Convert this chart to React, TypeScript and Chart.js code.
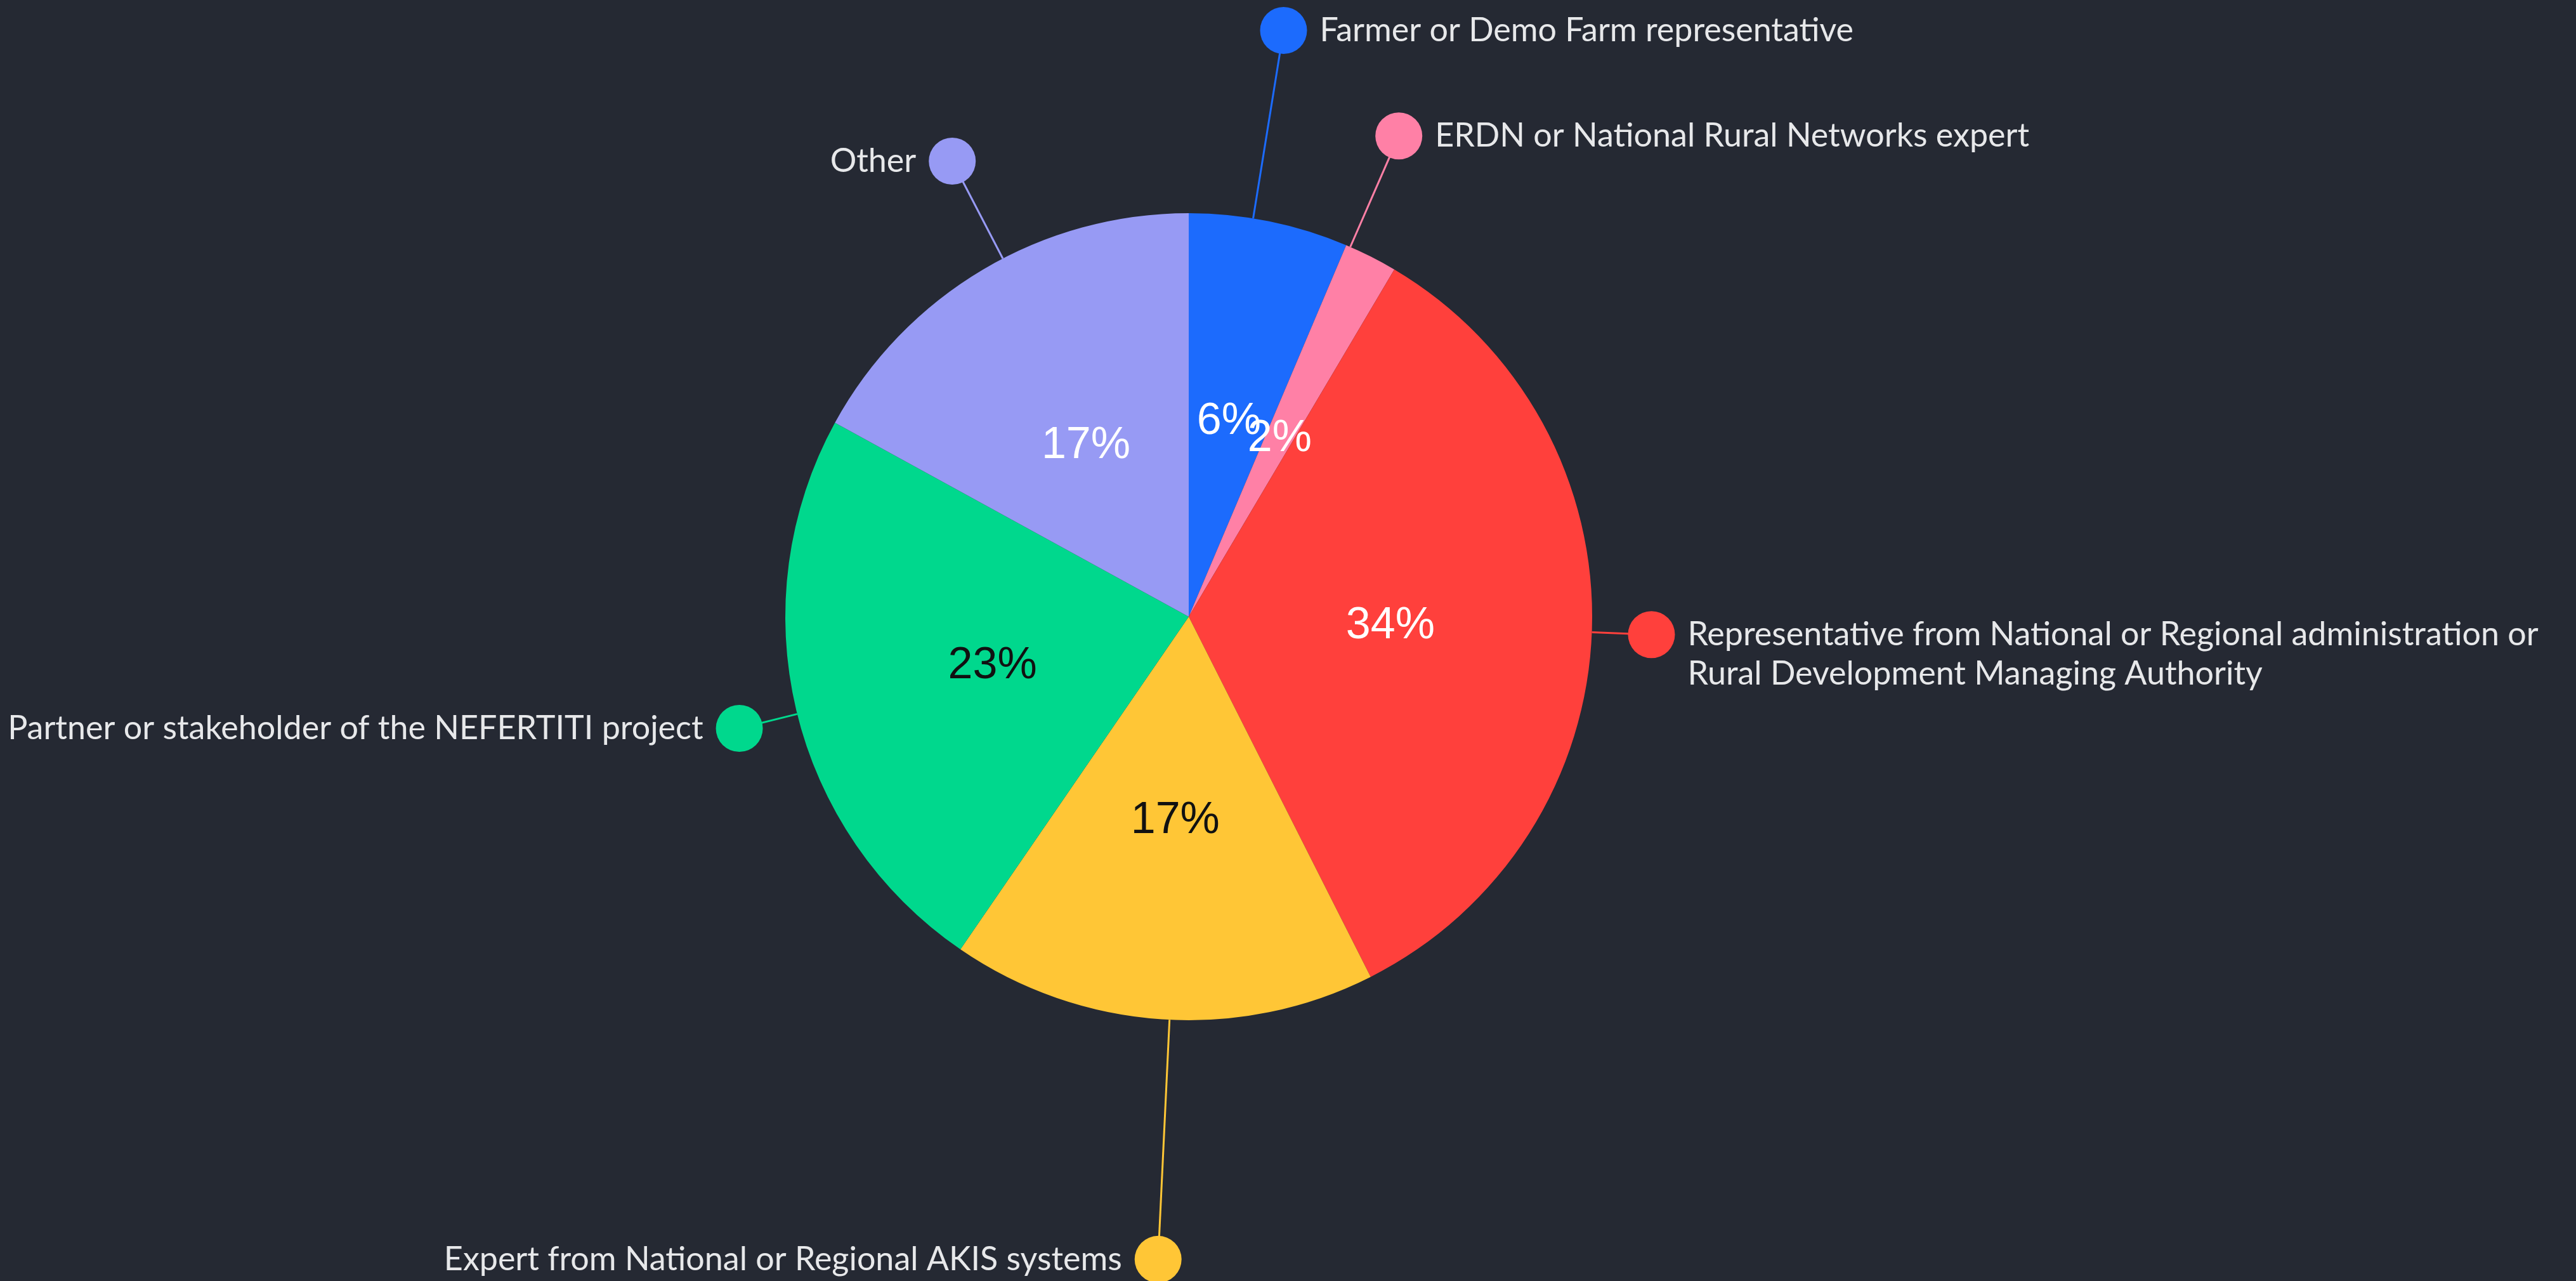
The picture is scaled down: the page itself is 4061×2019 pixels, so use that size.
import React, { useEffect, useRef } from "react";
import { Chart, registerables } from "chart.js";

Chart.register(...registerables);

// ---- data ----
const categories = [
  "Farmer or Demo Farm representative",
  "ERDN or National Rural Networks expert",
  "Representative from National or Regional administration or\nRural Development Managing Authority",
  "Expert from National or Regional AKIS systems",
  "Partner or stakeholder of the NEFERTITI project",
  "Other",
];
const counts = [3, 1, 16, 8, 11, 8];

// ---- styles ----
const sliceColors = ["#1c6bfd", "#ff80a6", "#ff403c", "#ffc636", "#00d88d", "#979af4"];
const pctColors = ["#ffffff", "#ffffff", "#ffffff", "#111111", "#111111", "#ffffff"];
const labelAngleNudge = [-2.3, -3.2, 0.3, -1.1, -0.55, 3.2]; // degrees
const labelRadius = [936, 827, 730, 1014, 730, 809];
const BG = "#252933";
const TEXT = "#e7e8ea";
const LABEL_FONT = "52px Lato";
const PCT_FONT = "70px 'Liberation Sans', Arial, sans-serif";

const labelPlugin = {
  id: "outerLabels",
  beforeDraw(chart: any) {
    const ctx = chart.ctx;
    ctx.save();
    ctx.fillStyle = BG;
    ctx.fillRect(0, 0, chart.width, chart.height);
    ctx.restore();
  },
  afterDatasetsDraw(chart: any) {
    const ctx = chart.ctx;
    const meta = chart.getDatasetMeta(0);
    const data = chart.data.datasets[0].data as number[];
    const total = data.reduce((a, b) => a + b, 0);
    meta.data.forEach((arc: any, i: number) => {
      const { x, y, startAngle, endAngle, outerRadius } = arc.getProps(
        ["x", "y", "startAngle", "endAngle", "outerRadius"],
        true
      );
      const mid = (startAngle + endAngle) / 2;
      // percentage label
      const pr = outerRadius / 2;
      ctx.save();
      ctx.font = PCT_FONT;
      ctx.fillStyle = pctColors[i];
      ctx.textAlign = "center";
      ctx.textBaseline = "middle";
      ctx.fillText(
        Math.round((data[i] / total) * 100) + "%",
        x + pr * Math.cos(mid),
        y + pr * Math.sin(mid) + 4
      );
      ctx.restore();

      // leader line + dot + label
      const a = mid + (labelAngleNudge[i] * Math.PI) / 180;
      const ex = x + outerRadius * Math.cos(a);
      const ey = y + outerRadius * Math.sin(a);
      const dx = x + labelRadius[i] * Math.cos(a);
      const dy = y + labelRadius[i] * Math.sin(a);
      const color = sliceColors[i];
      ctx.save();
      ctx.strokeStyle = color;
      ctx.lineWidth = 3;
      ctx.beginPath();
      ctx.moveTo(ex, ey);
      ctx.lineTo(dx, dy);
      ctx.stroke();
      ctx.fillStyle = color;
      ctx.beginPath();
      ctx.arc(dx, dy, 37, 0, Math.PI * 2);
      ctx.fill();

      ctx.font = LABEL_FONT;
      ctx.fillStyle = TEXT;
      ctx.textBaseline = "middle";
      const right = Math.cos(a) >= 0;
      ctx.textAlign = right ? "left" : "right";
      const tx = right ? dx + 37 + 20 : dx - 37 - 20;
      const lines = String(chart.data.labels[i]).split("\n");
      lines.forEach((ln, k) => ctx.fillText(ln, tx, dy + k * 62));
      ctx.restore();
    });
  },
};

export default function App() {
  const ref = useRef<HTMLCanvasElement | null>(null);
  useEffect(() => {
    document.body.style.margin = "0";
    document.body.style.background = BG;
    const canvas = ref.current!;
    const chart = new Chart(canvas, {
      type: "pie",
      data: {
        labels: categories,
        datasets: [
          {
            data: counts,
            backgroundColor: sliceColors,
            borderWidth: 0,
          },
        ],
      },
      options: {
        responsive: false,
        animation: false,
        layout: { padding: { left: 1238, right: 1551, top: 336, bottom: 411 } },
        plugins: {
          legend: { display: false },
          tooltip: { enabled: false },
          title: { display: false },
        },
      },
      plugins: [labelPlugin],
    });
    return () => chart.destroy();
  }, []);
  return (
    <canvas
      ref={ref}
      width={4061}
      height={2019}
      style={{ display: "block", width: 4061, height: 2019 }}
    />
  );
}
